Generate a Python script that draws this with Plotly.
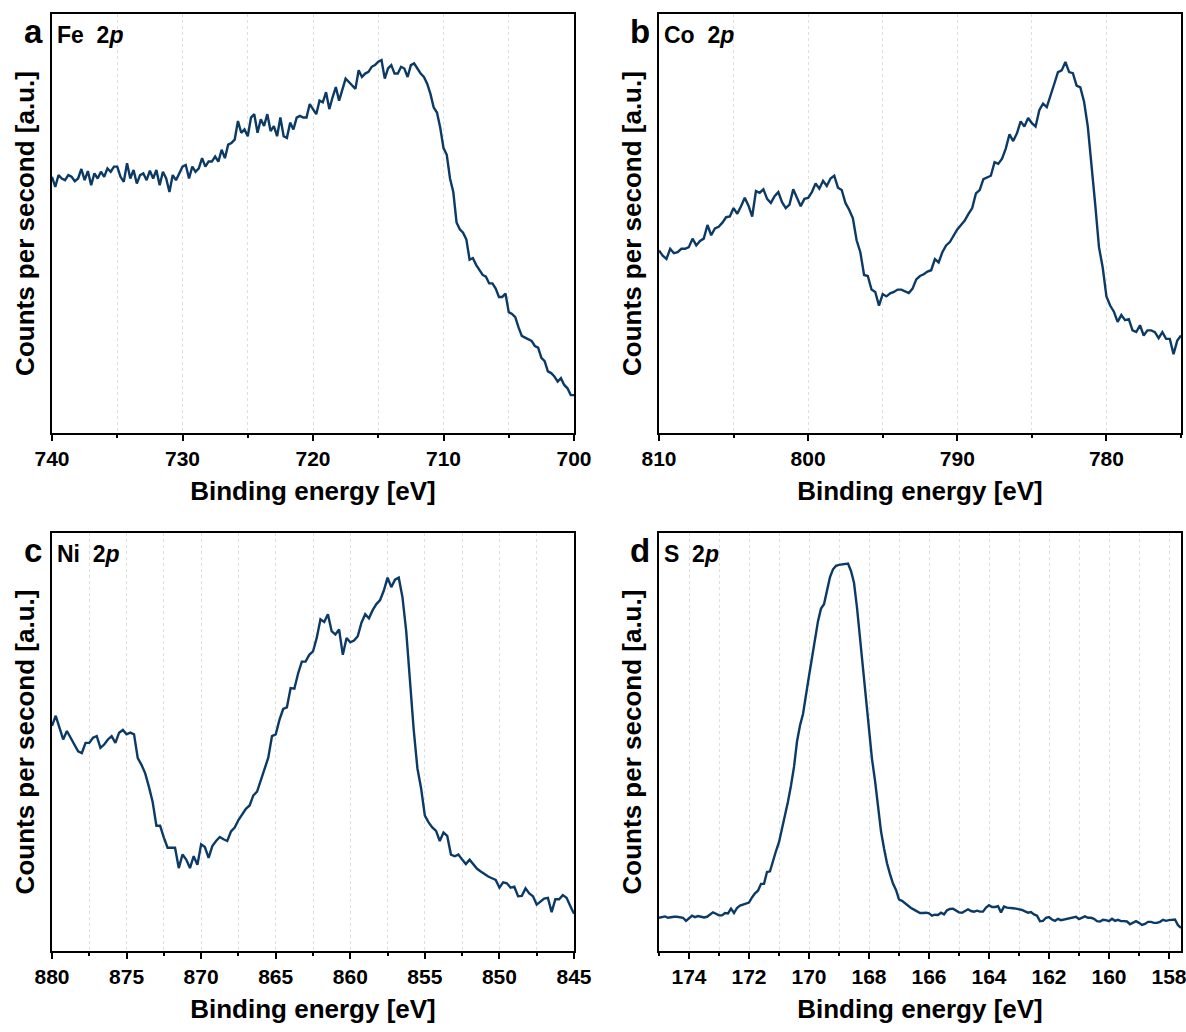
import plotly.graph_objects as go

# ---------------- data (binding energy in eV, counts in arbitrary units) ----------------
fe_energy = [
    740.0, 739.75, 739.5, 739.25, 739.0, 738.75, 738.5, 738.25,
    738.0, 737.75, 737.5, 737.25, 737.0, 736.75, 736.5, 736.25,
    736.0, 735.75, 735.5, 735.25, 735.0, 734.75, 734.5, 734.25,
    734.0, 733.75, 733.5, 733.25, 733.0, 732.75, 732.5, 732.25,
    732.0, 731.75, 731.5, 731.25, 731.0, 730.75, 730.5, 730.25,
    730.0, 729.75, 729.5, 729.25, 729.0, 728.75, 728.5, 728.25,
    728.0, 727.75, 727.5, 727.25, 727.0, 726.75, 726.5, 726.25,
    726.0, 725.75, 725.5, 725.25, 725.0, 724.75, 724.5, 724.25,
    724.0, 723.75, 723.5, 723.25, 723.0, 722.75, 722.5, 722.25,
    722.0, 721.75, 721.5, 721.25, 721.0, 720.75, 720.5, 720.25,
    720.0, 719.75, 719.5, 719.25, 719.0, 718.75, 718.5, 718.25,
    718.0, 717.75, 717.5, 717.25, 717.0, 716.75, 716.5, 716.25,
    716.0, 715.75, 715.5, 715.25, 715.0, 714.75, 714.5, 714.25,
    714.0, 713.75, 713.5, 713.25, 713.0, 712.75, 712.5, 712.25,
    712.0, 711.75, 711.5, 711.25, 711.0, 710.75, 710.5, 710.25,
    710.0, 709.75, 709.5, 709.25, 709.0, 708.75, 708.5, 708.25,
    708.0, 707.75, 707.5, 707.25, 707.0, 706.75, 706.5, 706.25,
    706.0, 705.75, 705.5, 705.25, 705.0, 704.75, 704.5, 704.25,
    704.0, 703.75, 703.5, 703.25, 703.0, 702.75, 702.5, 702.25,
    702.0, 701.75, 701.5, 701.25, 701.0, 700.75, 700.5, 700.25,
    700.0,
]
fe_counts = [
    755, 725, 760, 750, 745, 760, 755, 742, 750, 778,
    745, 772, 730, 765, 750, 770, 755, 780, 770, 785,
    785, 755, 740, 795, 750, 775, 735, 760, 765, 745,
    773, 750, 775, 730, 770, 750, 710, 760, 745, 765,
    785, 790, 750, 785, 770, 780, 810, 785, 800, 800,
    815, 800, 835, 810, 850, 855, 865, 920, 885, 895,
    875, 930, 940, 885, 925, 905, 940, 890, 905, 875,
    930, 875, 870, 915, 895, 930, 935, 930, 930, 970,
    955, 940, 980, 975, 1005, 955, 990, 1020, 980, 1015,
    1045, 1035, 1025, 1015, 1070, 1050, 1060, 1065, 1080, 1085,
    1095, 1100, 1045, 1075, 1085, 1060, 1060, 1080, 1075, 1050,
    1085, 1090, 1075, 1060, 1050, 1030, 1000, 960, 945, 900,
    840, 820, 750, 710, 620, 600, 590, 570, 510, 515,
    495, 480, 465, 460, 440, 440, 425, 400, 400, 410,
    355, 350, 340, 310, 285, 280, 275, 270, 255, 250,
    220, 210, 180, 175, 165, 150, 160, 140, 130, 110,
    110,
]

co_energy = [
    810.0, 809.75, 809.5, 809.25, 809.0, 808.75, 808.5, 808.25,
    808.0, 807.75, 807.5, 807.25, 807.0, 806.75, 806.5, 806.25,
    806.0, 805.75, 805.5, 805.25, 805.0, 804.75, 804.5, 804.25,
    804.0, 803.75, 803.5, 803.25, 803.0, 802.75, 802.5, 802.25,
    802.0, 801.75, 801.5, 801.25, 801.0, 800.75, 800.5, 800.25,
    800.0, 799.75, 799.5, 799.25, 799.0, 798.75, 798.5, 798.25,
    798.0, 797.75, 797.5, 797.25, 797.0, 796.75, 796.5, 796.25,
    796.0, 795.75, 795.5, 795.25, 795.0, 794.75, 794.5, 794.25,
    794.0, 793.75, 793.5, 793.25, 793.0, 792.75, 792.5, 792.25,
    792.0, 791.75, 791.5, 791.25, 791.0, 790.75, 790.5, 790.25,
    790.0, 789.75, 789.5, 789.25, 789.0, 788.75, 788.5, 788.25,
    788.0, 787.75, 787.5, 787.25, 787.0, 786.75, 786.5, 786.25,
    786.0, 785.75, 785.5, 785.25, 785.0, 784.75, 784.5, 784.25,
    784.0, 783.75, 783.5, 783.25, 783.0, 782.75, 782.5, 782.25,
    782.0, 781.75, 781.5, 781.25, 781.0, 780.75, 780.5, 780.25,
    780.0, 779.75, 779.5, 779.25, 779.0, 778.75, 778.5, 778.25,
    778.0, 777.75, 777.5, 777.25, 777.0, 776.75, 776.5, 776.25,
    776.0, 775.75, 775.5, 775.25, 775.0,
]
co_counts = [
    540, 525, 515, 545, 532, 535, 545, 545, 550, 575,
    555, 568, 575, 615, 585, 605, 610, 622, 638, 640,
    665, 648, 670, 695, 672, 640, 715, 710, 720, 692,
    680, 700, 712, 682, 665, 675, 720, 695, 670, 692,
    695, 712, 737, 722, 745, 730, 752, 760, 725, 718,
    680, 660, 635, 570, 535, 468, 465, 425, 418, 378,
    412, 405, 414, 418, 425, 425, 420, 415, 428, 455,
    465, 470, 478, 482, 515, 505, 535, 555, 565, 585,
    602, 615, 628, 648, 665, 708, 718, 750, 755, 760,
    800, 795, 810, 840, 882, 862, 885, 920, 905, 930,
    915, 905, 953, 972, 962, 993, 1030, 1065, 1070, 1095,
    1065, 1062, 1025, 1020, 978, 905, 800, 675, 550, 490,
    405, 378, 360, 330, 350, 335, 338, 305, 300, 320,
    290, 305, 305, 300, 282, 300, 280, 280, 235, 275,
    290,
]

ni_energy = [
    880.0, 879.75, 879.5, 879.25, 879.0, 878.75, 878.5, 878.25,
    878.0, 877.75, 877.5, 877.25, 877.0, 876.75, 876.5, 876.25,
    876.0, 875.75, 875.5, 875.25, 875.0, 874.75, 874.5, 874.25,
    874.0, 873.75, 873.5, 873.25, 873.0, 872.75, 872.5, 872.25,
    872.0, 871.75, 871.5, 871.25, 871.0, 870.75, 870.5, 870.25,
    870.0, 869.75, 869.5, 869.25, 869.0, 868.75, 868.5, 868.25,
    868.0, 867.75, 867.5, 867.25, 867.0, 866.75, 866.5, 866.25,
    866.0, 865.75, 865.5, 865.25, 865.0, 864.75, 864.5, 864.25,
    864.0, 863.75, 863.5, 863.25, 863.0, 862.75, 862.5, 862.25,
    862.0, 861.75, 861.5, 861.25, 861.0, 860.75, 860.5, 860.25,
    860.0, 859.75, 859.5, 859.25, 859.0, 858.75, 858.5, 858.25,
    858.0, 857.75, 857.5, 857.25, 857.0, 856.75, 856.5, 856.25,
    856.0, 855.75, 855.5, 855.25, 855.0, 854.75, 854.5, 854.25,
    854.0, 853.75, 853.5, 853.25, 853.0, 852.75, 852.5, 852.25,
    852.0, 851.75, 851.5, 851.25, 851.0, 850.75, 850.5, 850.25,
    850.0, 849.75, 849.5, 849.25, 849.0, 848.75, 848.5, 848.25,
    848.0, 847.75, 847.5, 847.25, 847.0, 846.75, 846.5, 846.25,
    846.0, 845.75, 845.5, 845.25, 845.0,
]
ni_counts = [
    660, 690, 655, 620, 645, 625, 602, 585, 580, 610,
    610, 625, 630, 595, 605, 620, 630, 610, 640, 648,
    635, 640, 635, 565, 545, 520, 480, 435, 365, 365,
    330, 300, 300, 300, 240, 280, 265, 240, 275, 250,
    310, 302, 270, 305, 320, 332, 325, 320, 348, 360,
    382, 400, 415, 425, 455, 466, 498, 530, 566, 630,
    635, 678, 710, 715, 772, 770, 815, 850, 850, 870,
    880, 920, 975, 967, 990, 940, 930, 945, 870, 920,
    907, 912, 925, 965, 990, 978, 1002, 1020, 1032, 1060,
    1098, 1070, 1092, 1098, 1040, 940, 795, 650, 535, 475,
    395, 375, 360, 350, 320, 345, 335, 280, 275, 280,
    265, 252, 265, 250, 238, 230, 222, 215, 210, 205,
    182, 198, 195, 182, 185, 157, 158, 180, 165, 157,
    132, 142, 150, 152, 110, 148, 148, 160, 152, 128,
    105,
]

s_energy = [
    175.0, 174.9, 174.8, 174.7, 174.6, 174.5, 174.4, 174.3, 174.2, 174.1,
    174.0, 173.9, 173.8, 173.7, 173.6, 173.5, 173.4, 173.3, 173.2, 173.1,
    173.0, 172.9, 172.8, 172.7, 172.6, 172.5, 172.4, 172.3, 172.2, 172.1,
    172.0, 171.9, 171.8, 171.7, 171.6, 171.5, 171.4, 171.3, 171.2, 171.1,
    171.0, 170.9, 170.8, 170.7, 170.6, 170.5, 170.4, 170.3, 170.2, 170.1,
    170.0, 169.9, 169.8, 169.7, 169.6, 169.5, 169.4, 169.3, 169.2, 169.1,
    169.0, 168.9, 168.8, 168.7, 168.6, 168.5, 168.4, 168.3, 168.2, 168.1,
    168.0, 167.9, 167.8, 167.7, 167.6, 167.5, 167.4, 167.3, 167.2, 167.1,
    167.0, 166.9, 166.8, 166.7, 166.6, 166.5, 166.4, 166.3, 166.2, 166.1,
    166.0, 165.9, 165.8, 165.7, 165.6, 165.5, 165.4, 165.3, 165.2, 165.1,
    165.0, 164.9, 164.8, 164.7, 164.6, 164.5, 164.4, 164.3, 164.2, 164.1,
    164.0, 163.9, 163.8, 163.7, 163.6, 163.5, 163.4, 163.3, 163.2, 163.1,
    163.0, 162.9, 162.8, 162.7, 162.6, 162.5, 162.4, 162.3, 162.2, 162.1,
    162.0, 161.9, 161.8, 161.7, 161.6, 161.5, 161.4, 161.3, 161.2, 161.1,
    161.0, 160.9, 160.8, 160.7, 160.6, 160.5, 160.4, 160.3, 160.2, 160.1,
    160.0, 159.9, 159.8, 159.7, 159.6, 159.5, 159.4, 159.3, 159.2, 159.1,
    159.0, 158.9, 158.8, 158.7, 158.6, 158.5, 158.4, 158.3, 158.2, 158.1,
    158.0, 157.9, 157.8, 157.7, 157.6,
]
s_counts = [
    95, 96, 99, 95, 97, 98, 98, 97, 95, 86,
    95, 101, 97, 100, 98, 96, 98, 106, 111, 107,
    102, 102, 109, 108, 122, 109, 124, 131, 134, 136,
    140, 155, 167, 175, 195, 195, 230, 232, 265, 292,
    318, 355, 392, 438, 485, 540, 615, 662, 696, 758,
    808, 862, 912, 970, 1007, 1020, 1060, 1100, 1123, 1133,
    1136, 1138, 1140, 1140, 1118, 1083, 1010, 920, 815, 725,
    640, 563, 500, 418, 350, 300, 256, 224, 196, 177,
    149, 145, 138, 129, 124, 119, 113, 109, 109, 110,
    108, 101, 104, 103, 110, 105, 117, 121, 122, 117,
    111, 110, 116, 120, 115, 113, 116, 113, 113, 125,
    132, 127, 127, 129, 111, 128, 125, 125, 123, 122,
    121, 118, 114, 110, 112, 105, 101, 85, 86, 95,
    97, 90, 86, 92, 88, 90, 93, 95, 97, 98,
    91, 95, 99, 95, 95, 92, 85, 84, 89, 88,
    85, 92, 86, 89, 85, 85, 84, 76, 80, 85,
    80, 74, 77, 83, 83, 80, 80, 83, 89, 86,
    88, 88, 90, 73, 65,
]

panel_letters = ["a", "b", "c", "d"]
panel_titles = ["Fe&nbsp;&nbsp;2<i>p</i>", "Co&nbsp;&nbsp;2<i>p</i>",
                "Ni&nbsp;&nbsp;2<i>p</i>", "S&nbsp;&nbsp;2<i>p</i>"]
x_title = "Binding energy [eV]"
y_title = "Counts per second [a.u.]"

# ---------------- layout ----------------
W, H = 1186, 1032
FONT = "Liberation Sans, Arial, sans-serif"
LINE = "#0b3a66"
GRID = "#dedede"

boxes = [(52, 574, 14, 433), (659, 1181, 14, 433), (52, 574, 533, 951), (659, 1181, 533, 951)]
x_ranges = [[740, 700], [810, 775], [880, 845], [175, 157.6]]
y_ranges = [[-2, 1236], [3, 1236], [-5, 1230], [-3, 1230]]
major = [(10, 700), (10, 780), (5, 845), (2, 158)]
minor = [5, 5, 2.5, 1]

series = [(fe_energy, fe_counts), (co_energy, co_counts), (ni_energy, ni_counts), (s_energy, s_counts)]

fig = go.Figure()
layout = dict(
    width=W, height=H, margin=dict(l=0, r=0, t=0, b=0),
    paper_bgcolor="white", plot_bgcolor="white",
    font=dict(family=FONT, color="black"),
    showlegend=False,
)
annotations = []
for i, ((xe, yc), (l, r, t, b)) in enumerate(zip(series, boxes)):
    n = min(len(xe), len(yc))
    sfx = "" if i == 0 else str(i + 1)
    fig.add_trace(go.Scatter(x=xe[:n], y=yc[:n], mode="lines",
                             line=dict(color=LINE, width=2.4),
                             xaxis="x" + sfx, yaxis="y" + sfx, hoverinfo="skip"))
    layout["xaxis" + sfx] = dict(
        domain=[l / W, r / W], anchor="y" + sfx, range=x_ranges[i],
        showline=True, linecolor="black", linewidth=2, mirror=True,
        ticks="outside", ticklen=6, tickwidth=2, tickcolor="black",
        dtick=major[i][0], tick0=major[i][1],
        tickfont=dict(family=FONT, size=21, color="black", weight="bold"),
        ticklabeloverflow="allow",
        showgrid=True, gridcolor=GRID, griddash="dot", gridwidth=1,
        zeroline=False, automargin=False,
        minor=dict(dtick=minor[i], tick0=major[i][1], ticks="outside", ticklen=3,
                   tickwidth=2, tickcolor="black", showgrid=True,
                   gridcolor=GRID, griddash="dot", gridwidth=1),
        title=dict(text=x_title, font=dict(family=FONT, size=26, color="black", weight="bold"),
                   standoff=13),
    )
    layout["yaxis" + sfx] = dict(
        domain=[1 - b / H, 1 - t / H], anchor="x" + sfx, range=y_ranges[i],
        showline=True, linecolor="black", linewidth=2, mirror=True,
        ticks="", showticklabels=False, showgrid=False, zeroline=False,
        automargin=False,
        title=dict(text=y_title, font=dict(family=FONT, size=26, color="black", weight="bold"),
                   standoff=8),
    )
    annotations.append(dict(text="<b>%s</b>" % panel_letters[i], xref="paper", yref="paper",
                            x=(l - 19) / W, y=1 - (t + 17) / H, xanchor="center", yanchor="middle",
                            showarrow=False, font=dict(family=FONT, size=33, color="black")))
    annotations.append(dict(text="<b>%s</b>" % panel_titles[i], xref="paper", yref="paper",
                            x=(l + 3) / W, y=1 - (t + 21) / H, xanchor="left", yanchor="middle",
                            showarrow=False, font=dict(family=FONT, size=23, color="black")))
layout["annotations"] = annotations
fig.update_layout(**layout)
fig.write_html("out.html")
